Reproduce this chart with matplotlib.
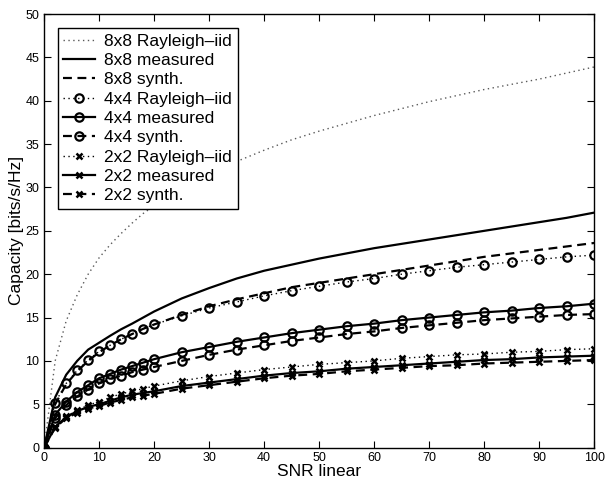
import numpy as np
import matplotlib
matplotlib.use('Agg')
import matplotlib.pyplot as plt

plt.rcParams['font.family'] = ['Liberation Sans', 'DejaVu Sans']

# SNR grid (linear)
snr = [0, 2, 4, 6, 8, 10, 12, 14, 16, 18, 20, 25, 30, 35, 40, 45, 50,
       55, 60, 65, 70, 75, 80, 85, 90, 95, 100]

# capacities [bits/s/Hz]
c8_iid = [0, 10.0, 14.6, 17.6, 20.0, 21.9, 23.4, 24.7, 25.9, 27.0, 27.9, 29.9, 31.6,
          33.0, 34.3, 35.5, 36.5, 37.4, 38.3, 39.1, 39.9, 40.6, 41.3, 41.9, 42.5, 43.2, 43.9]
c8_meas = [0, 5.8, 8.4, 10.0, 11.3, 12.1, 12.9, 13.65, 14.3, 15.0, 15.7, 17.2, 18.4,
           19.5, 20.4, 21.1, 21.8, 22.4, 23.0, 23.5, 24.0, 24.5, 25.0, 25.5, 26.0, 26.5, 27.1]
c8_syn = [0, 5.0, 7.3, 8.8, 10.0, 11.0, 11.8, 12.5, 13.1, 13.7, 14.2, 15.3, 16.3,
          17.1, 17.8, 18.5, 19.0, 19.5, 20.0, 20.5, 21.0, 21.5, 22.0, 22.4, 22.8, 23.2, 23.6]
c4_iid = [0, 5.2, 7.4, 8.9, 10.1, 11.1, 11.8, 12.5, 13.1, 13.7, 14.2, 15.2, 16.1,
          16.8, 17.5, 18.1, 18.6, 19.1, 19.5, 20.0, 20.4, 20.8, 21.1, 21.4, 21.7, 22.0, 22.2]
c4_meas = [0, 3.8, 5.3, 6.4, 7.2, 8.0, 8.5, 9.0, 9.4, 9.8, 10.2, 11.0, 11.6,
           12.2, 12.7, 13.2, 13.6, 14.0, 14.3, 14.7, 15.0, 15.3, 15.6, 15.8, 16.1, 16.3, 16.6]
c4_syn = [0, 3.4, 4.9, 5.9, 6.7, 7.4, 7.9, 8.3, 8.7, 9.0, 9.3, 10.0, 10.7,
          11.3, 11.8, 12.3, 12.7, 13.1, 13.4, 13.8, 14.1, 14.4, 14.7, 14.9, 15.1, 15.3, 15.4]
c2_iid = [0, 2.4, 3.6, 4.3, 4.9, 5.3, 5.8, 6.2, 6.5, 6.8, 7.1, 7.7, 8.2,
          8.6, 9.0, 9.3, 9.6, 9.8, 10.0, 10.3, 10.5, 10.7, 10.8, 11.0, 11.1, 11.3, 11.4]
c2_meas = [0, 2.4, 3.5, 4.2, 4.7, 5.0, 5.4, 5.8, 6.1, 6.3, 6.5, 7.1, 7.5,
           7.9, 8.3, 8.6, 8.8, 9.1, 9.3, 9.5, 9.7, 9.9, 10.1, 10.2, 10.4, 10.5, 10.6]
c2_syn = [0, 2.3, 3.4, 4.0, 4.5, 4.8, 5.2, 5.5, 5.8, 6.0, 6.2, 6.8, 7.2,
          7.6, 8.0, 8.3, 8.5, 8.8, 9.0, 9.2, 9.4, 9.5, 9.7, 9.8, 9.9, 10.0, 10.1]

labels = ['8x8 Rayleigh\u2013iid', '8x8 measured', '8x8 synth.',
          '4x4 Rayleigh\u2013iid', '4x4 measured', '4x4 synth.',
          '2x2 Rayleigh\u2013iid', '2x2 measured', '2x2 synth.']

fig = plt.figure(figsize=(6.05, 4.86), dpi=100)
ax = fig.add_axes([0.073, 0.079, 0.909, 0.892])

dot = (0, (1, 2.5))
dash = (0, (4, 2.5))
mk = dict(markersize=6, markeredgewidth=1.6, markerfacecolor='none', markeredgecolor='k')
xk = dict(markersize=5, markeredgewidth=1.8, markeredgecolor='k')

ax.plot(snr, c8_iid, color='0.35', lw=1.0, ls=dot, label=labels[0])
ax.plot(snr, c8_meas, 'k-', lw=1.6, label=labels[1])
ax.plot(snr, c8_syn, 'k', lw=1.6, ls=dash, label=labels[2])
ax.plot(snr, c4_iid, 'k', lw=1.0, ls=dot, marker='o', label=labels[3], **mk)
ax.plot(snr, c4_meas, 'k-', lw=1.6, marker='o', label=labels[4], **mk)
ax.plot(snr, c4_syn, 'k', lw=1.6, ls=dash, marker='o', label=labels[5], **mk)
ax.plot(snr, c2_iid, 'k', lw=1.0, ls=dot, marker='x', label=labels[6], **xk)
ax.plot(snr, c2_meas, 'k-', lw=1.6, marker='x', label=labels[7], **xk)
ax.plot(snr, c2_syn, 'k', lw=1.6, ls=dash, marker='x', label=labels[8], **xk)

ax.set_xlim(0, 100)
ax.set_ylim(0, 50)
ax.set_xticks(np.arange(0, 101, 10))
ax.set_yticks(np.arange(0, 51, 5))
ax.tick_params(direction='in', top=True, right=True, labelsize=9, length=5)
for s in ax.spines.values():
    s.set_linewidth(1.0)
ax.set_xlabel('SNR linear', fontsize=12.5, labelpad=0)
ax.set_ylabel('Capacity [bits/s/Hz]', fontsize=12.5, labelpad=1)

leg = ax.legend(loc='upper left', bbox_to_anchor=(0.025, 0.968), fontsize=12.5,
                numpoints=1, handlelength=1.8, handletextpad=0.55,
                labelspacing=0.24, borderpad=0.32, borderaxespad=0.0,
                fancybox=False, framealpha=1, edgecolor='k')
leg.get_frame().set_linewidth(1.0)

fig.savefig('out.png', dpi=100)
